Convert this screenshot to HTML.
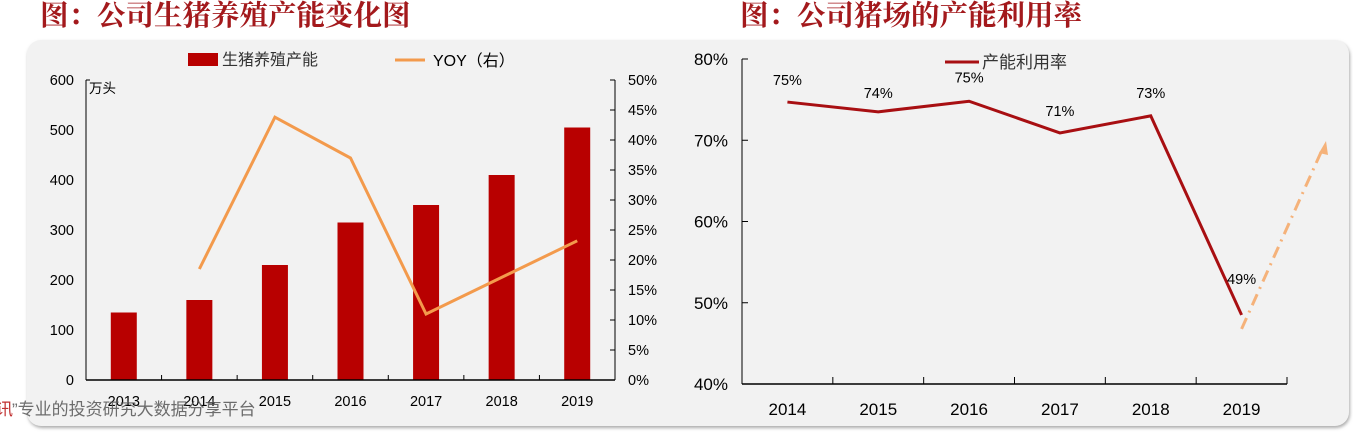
<!DOCTYPE html>
<html><head><meta charset="utf-8"><style>
body{margin:0;width:1353px;height:433px;background:#fff;overflow:hidden;position:relative;font-family:"Liberation Sans","Noto Sans CJK SC",sans-serif}
svg{position:absolute;left:0;top:0}
</style></head><body>
<svg width="1353" height="433" font-family="Liberation Sans, Noto Sans CJK SC, sans-serif">
<defs><filter id="sh" x="-5%" y="-5%" width="110%" height="115%"><feDropShadow dx="1" dy="2" stdDeviation="1.5" flood-color="#888" flood-opacity="0.7"/></filter></defs>
<rect x="27" y="40" width="1322" height="386" rx="14" fill="#f2f2f2" filter="url(#sh)"/>
<text x="40" y="25" font-size="28.5" font-weight="bold" fill="#a3191c" font-family="Noto Serif CJK SC, Noto Sans CJK SC, serif">图：公司生猪养殖产能变化图</text>
<text x="740" y="25" font-size="28.5" font-weight="bold" fill="#a3191c" font-family="Noto Serif CJK SC, Noto Sans CJK SC, serif">图：公司猪场的产能利用率</text>
<g id="left"></g>
<g id="right"></g>
<text x="-4" y="415" font-size="17" fill="#c03030">讯</text>
<text x="12" y="415" font-size="17" fill="#555" fill-opacity="0.85">”专业的投资研究大数据分享平台</text>
</svg>
<script>
const ns="http://www.w3.org/2000/svg";
const years1=["2013","2014","2015","2016","2017","2018","2019"];
const capacity=[135,160,230,315,350,410,505];
const yoy=[null,18.5,43.8,37,11,17.1,23.2];
const leftTicks=[0,100,200,300,400,500,600];
const rightTicks=[0,5,10,15,20,25,30,35,40,45,50];
const years2=["2014","2015","2016","2017","2018","2019"];
const util=[74.7,73.5,74.8,70.9,73.0,48.5];
const utilLabels=["75%","74%","75%","71%","73%","49%"];
const utilTicks=[40,50,60,70,80];
function mk(p,t,a,txt){const e=document.createElementNS(ns,t);for(const k in a)e.setAttribute(k,a[k]);if(txt!=null)e.textContent=txt;p.appendChild(e);return e;}
// left chart
const L=document.getElementById('left');
const x0=86,x1=615,y0=380,y1=80;
const bw=(x1-x0)/years1.length;
const xc=i=>x0+bw*(i+0.5);
const yl=v=>y0-(v/600)*(y0-y1);
const yr=v=>y0-(v/50)*(y0-y1);
leftTicks.forEach(v=>{let t=mk(L,'text',{x:x0-12,y:yl(v)+5,'font-size':14.5,'text-anchor':'end',fill:'#000'},v);

});
rightTicks.forEach(v=>{let t=mk(L,'text',{x:x1+13,y:yr(v)+5,'font-size':14.5,fill:'#000'},v+'%');


mk(L,'line',{x1:x1-5,x2:x1,y1:yr(v),y2:yr(v),stroke:'#000'});});
capacity.forEach((v,i)=>{let r=mk(L,'rect',{x:xc(i)-13,y:yl(v),width:26,height:y0-yl(v),fill:'#b80000'});

});
mk(L,'line',{x1:x0,x2:x0,y1:y1,y2:y0,stroke:'#000'});
mk(L,'line',{x1:x0,x2:x0+4,y1:y1,y2:y1,stroke:'#000'});
mk(L,'line',{x1:x1,x2:x1,y1:y1,y2:y0,stroke:'#000'});
mk(L,'line',{x1:x0,x2:x1,y1:y0,y2:y0,stroke:'#000','stroke-width':1.5});
for(let i=1;i<years1.length;i++)mk(L,'line',{x1:x0+bw*i,x2:x0+bw*i,y1:y0-5,y2:y0,stroke:'#000'});
years1.forEach((y,i)=>{let t=mk(L,'text',{x:xc(i),y:406,'font-size':14.5,'text-anchor':'middle',fill:'#000'},y);

});
let pts=yoy.map((v,i)=>v==null?null:xc(i)+','+yr(v)).filter(p=>p).join(' ');
let pl=mk(L,'polyline',{points:pts,fill:'none',stroke:'#f39a4c','stroke-width':3,'stroke-linejoin':'miter'});


let ut=mk(L,'text',{x:89,y:93,'font-size':13.5,fill:'#000'},'万头');


let lg1=mk(L,'rect',{x:188,y:53,width:30,height:13,fill:'#b80000'});


let lt1=mk(L,'text',{x:222,y:65,'font-size':16,fill:'#333'},'生猪养殖产能');


let lg2=mk(L,'line',{x1:395,x2:425,y1:60,y2:60,stroke:'#f39a4c','stroke-width':3});


let lt2=mk(L,'text',{x:433,y:66,'font-size':16,fill:'#000'},'YOY（右）');


// right chart
const R=document.getElementById('right');
const a0=742,a1=1287,b0=384,b1=59;
const sw=(a1-a0)/years2.length;
const xr=i=>a0+sw*(i+0.5);
const yu=v=>b0-(v-40)/40*(b0-b1);
utilTicks.forEach(v=>{let t=mk(R,'text',{x:a0-14,y:yu(v)+6,'font-size':17,'text-anchor':'end',fill:'#000'},v+'%');


mk(R,'line',{x1:a0,x2:a0+6,y1:yu(v),y2:yu(v),stroke:'#000'});});
mk(R,'line',{x1:a0,x2:a0,y1:b1,y2:b0,stroke:'#000'});
mk(R,'line',{x1:a0,x2:a1,y1:b0,y2:b0,stroke:'#000','stroke-width':1.5});
for(let i=1;i<=years2.length;i++)mk(R,'line',{x1:a0+sw*i,x2:a0+sw*i,y1:b0-7,y2:b0,stroke:'#000'});
years2.forEach((y,i)=>{let t=mk(R,'text',{x:xr(i),y:415,'font-size':17,'text-anchor':'middle',fill:'#000'},y);

});
let ul=mk(R,'polyline',{points:util.map((v,i)=>xr(i)+','+yu(v)).join(' '),fill:'none',stroke:'#a80f12','stroke-width':3});


const lblOff=[-17,-14,-19,-17,-18,-31];
util.forEach((v,i)=>{let t=mk(R,'text',{x:xr(i),y:yu(v)+lblOff[i],'font-size':14.5,'text-anchor':'middle',fill:'#000'},utilLabels[i]);

});
let ar=mk(R,'line',{x1:xr(5),y1:yu(util[5])+14,x2:1322,y2:150,stroke:'#f5b27a','stroke-width':3,'stroke-dasharray':'12,6,2,6'});


let ah=mk(R,'polygon',{points:'1326,141 1319,153 1328,155',fill:'#f5b27a'});


let lg3=mk(R,'line',{x1:945,x2:979,y1:62,y2:62,stroke:'#a80f12','stroke-width':3});


let lt3=mk(R,'text',{x:982,y:68,'font-size':17,fill:'#333'},'产能利用率');


</script>
</body></html>
